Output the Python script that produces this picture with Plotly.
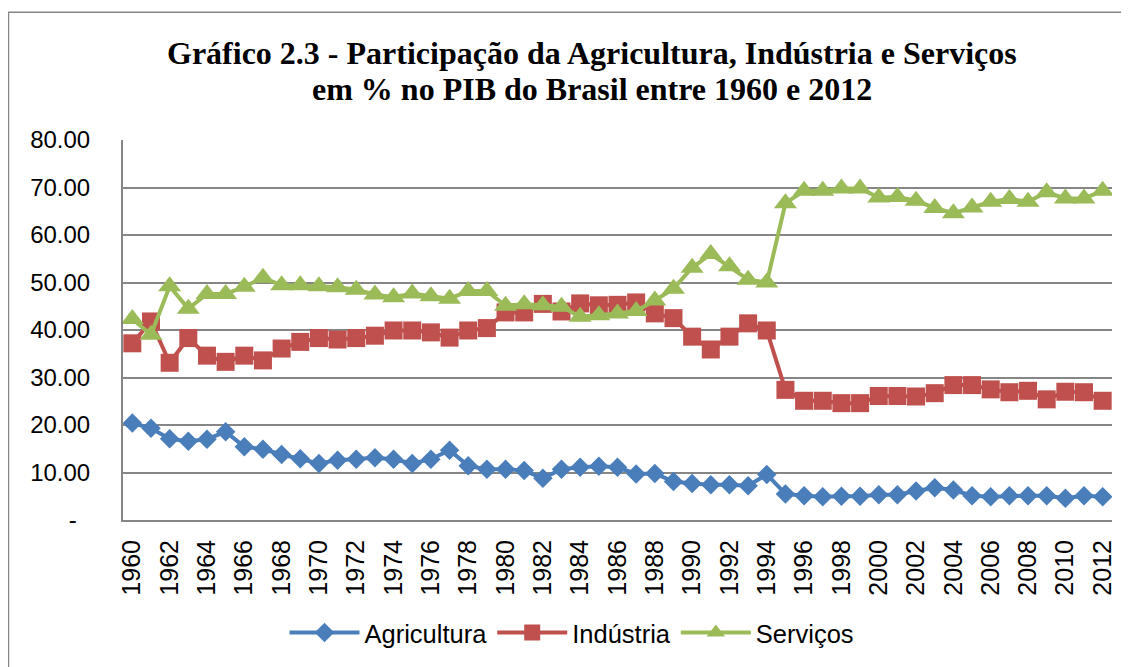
import plotly.graph_objects as go

years = list(range(1960, 2013))

agricultura = [20.4, 19.3, 17.1, 16.6, 17.0, 18.6, 15.4, 14.9, 13.8, 12.9,
               11.9, 12.6, 12.8, 13.1, 12.8, 11.9, 12.8, 14.7, 11.4, 10.7,
               10.7, 10.4, 8.8, 10.7, 11.1, 11.3, 11.1, 9.7, 9.8, 8.1,
               7.7, 7.4, 7.4, 7.2, 9.6, 5.5, 5.1, 4.9, 5.0, 5.0,
               5.3, 5.3, 6.1, 6.8, 6.3, 5.1, 4.9, 5.1, 5.1, 5.1,
               4.6, 5.1, 4.9]

industria = [37.2, 41.8, 33.1, 38.3, 34.6, 33.3, 34.6, 33.6, 36.1, 37.5,
             38.3, 38.0, 38.3, 38.8, 39.9, 39.9, 39.5, 38.4, 39.9, 40.4,
             43.7, 43.7, 45.5, 43.9, 45.6, 45.2, 45.3, 45.8, 43.5, 42.5,
             38.6, 35.9, 38.6, 41.4, 39.9, 27.4, 25.1, 25.1, 24.6, 24.6,
             26.1, 26.1, 26.0, 26.7, 28.4, 28.4, 27.5, 26.9, 27.2, 25.4,
             27.0, 26.9, 25.1]

servicos = [42.3, 39.0, 49.2, 44.5, 47.6, 47.6, 49.1, 51.0, 49.4, 49.4,
            49.2, 49.0, 48.5, 47.5, 46.9, 47.7, 47.1, 46.6, 48.2, 48.2,
            45.1, 45.4, 45.2, 44.9, 42.8, 43.1, 43.5, 44.0, 46.2, 48.7,
            53.1, 56.0, 53.4, 50.6, 50.0, 66.7, 69.3, 69.3, 69.8, 69.8,
            67.9, 68.0, 67.2, 65.7, 64.6, 65.8, 67.0, 67.6, 67.0, 69.0,
            67.7, 67.7, 69.3]

y_ticks = [0, 10, 20, 30, 40, 50, 60, 70, 80]
y_labels = ["-\u00a0\u00a0", "10.00", "20.00", "30.00", "40.00",
            "50.00", "60.00", "70.00", "80.00"]

title_lines = ["<b>Gráfico 2.3 - Participação da Agricultura, Indústria e Serviços</b>",
               "<b>em % no PIB do Brasil entre 1960 e 2012</b>"]

grid = "#868686"
txt_font = "Liberation Sans, Arial, sans-serif"
title_font = dict(family="Liberation Serif, Times New Roman, serif", size=32, color="black")

fig = go.Figure()
fig.add_trace(go.Scatter(
    x=years, y=agricultura, name="Agricultura", mode="lines+markers",
    line=dict(color="#4A7EBB", width=4),
    marker=dict(symbol="diamond", size=15, color="#4A7EBB")))
fig.add_trace(go.Scatter(
    x=years, y=industria, name="Indústria", mode="lines+markers",
    line=dict(color="#C0504D", width=4),
    marker=dict(symbol="square", size=18, color="#C0504D")))
fig.add_trace(go.Scatter(
    x=years, y=servicos, name="Serviços", mode="lines+markers",
    line=dict(color="#9BBB59", width=4),
    marker=dict(symbol="triangle-up", size=20, color="#9BBB59")))

# page body has an 8px margin, so the figure is a bit smaller than the window
fig.update_layout(
    width=1121, height=659,
    margin=dict(l=115, r=17, t=132, b=146),
    paper_bgcolor="white", plot_bgcolor="white",
    font=dict(family=txt_font, size=24, color="black"),
    showlegend=True,
    legend=dict(orientation="h", x=0.454, xanchor="center", y=-0.294, yanchor="middle",
                font=dict(size=25.5), itemwidth=70, traceorder="normal"),
    xaxis=dict(range=[1959.5, 2012.5], tickvals=years[::2], tickangle=-90,
               showgrid=False, showline=True, linecolor=grid, linewidth=2,
               ticks="", ticklabelstandoff=8, zeroline=False, automargin=False,
               tickfont=dict(size=25)),
    yaxis=dict(range=[0, 80], tickvals=y_ticks, ticktext=y_labels,
               showgrid=True, gridcolor=grid, gridwidth=2,
               showline=True, linecolor=grid, linewidth=2, zeroline=False,
               automargin=False,
               ticks="", ticklabelstandoff=26, tickfont=dict(size=24)),
    annotations=[
        dict(text=title_lines[0], xref="paper", yref="paper", x=0.4742, y=1.2283,
             xanchor="center", yanchor="middle", showarrow=False, font=title_font),
        dict(text=title_lines[1], xref="paper", yref="paper", x=0.4742, y=1.1339,
             xanchor="center", yanchor="middle", showarrow=False, font=title_font),
    ],
    shapes=[dict(type="rect", xref="paper", yref="paper",
                 x0=-0.1158, x1=1.05, y0=-0.5, y1=1.336,
                 line=dict(color=grid, width=1.5), layer="below")],
)

fig.write_html("out.html")
